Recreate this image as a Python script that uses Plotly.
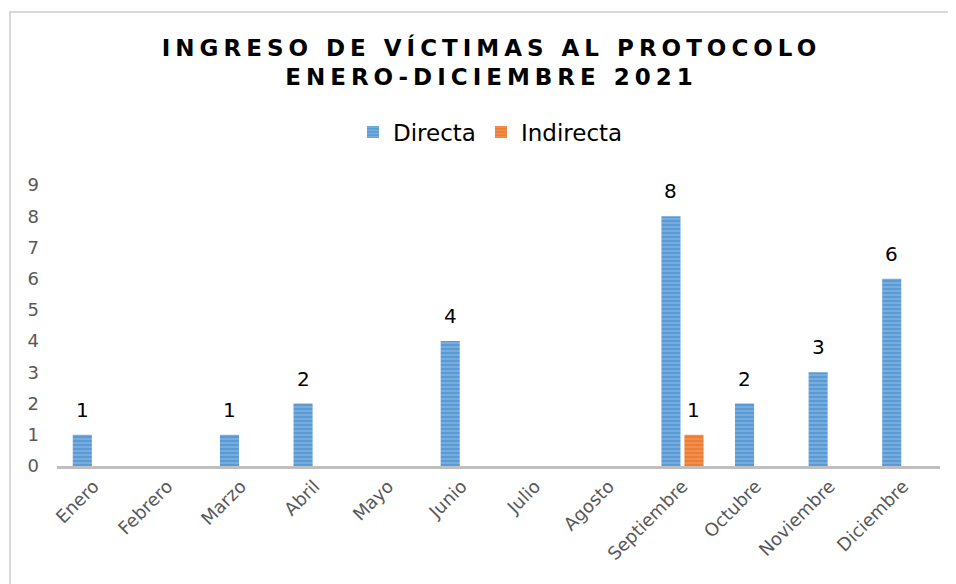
import plotly.graph_objects as go

months = ["Enero", "Febrero", "Marzo", "Abril", "Mayo", "Junio", "Julio",
          "Agosto", "Septiembre", "Octubre", "Noviembre", "Diciembre"]
directa = [1, None, 1, 2, None, 4, None, None, 8, 2, 3, 6]
indirecta = [None, None, None, None, None, None, None, None, 1, None, None, None]
y_ticks = [0, 1, 2, 3, 4, 5, 6, 7, 8, 9]
title_lines = ["INGRESO DE VÍCTIMAS AL PROTOCOLO", "ENERO-DICIEMBRE 2021"]

OFF = 8  # page body margin
W, H = 956, 584
ML, MR, MT, MB = 57 - OFF, 956 - (940 - OFF), 185 - OFF, 584 - (466 - OFF)
PW = W - ML - MR
PH = H - MT - MB

fig = go.Figure()
fig.add_trace(go.Bar(
    name="Directa", x=months, y=directa,
    marker=dict(color="#5b9bd5", line=dict(width=0),
                pattern=dict(shape="-", fgcolor="#a9cbee", size=4, solidity=0.35, fillmode="overlay")),
))
fig.add_trace(go.Bar(
    name="Indirecta", x=months, y=indirecta,
    marker=dict(color="#ed7d31", line=dict(width=0),
                pattern=dict(shape="-", fgcolor="#f6b48a", size=4, solidity=0.35, fillmode="overlay")),
))

annotations = []
for series, shift in ((directa, -11.5), (indirecta, 11.5)):
    for m, v in zip(months, series):
        if v is None:
            continue
        annotations.append(dict(x=m, y=v, text=str(v), showarrow=False,
                                xref="x", yref="y", xshift=shift, yshift=25,
                                font=dict(family="DejaVu Sans", size=20, color="#000000")))

fig.update_layout(
    width=W, height=H,
    margin=dict(l=ML, r=MR, t=MT, b=MB),
    paper_bgcolor="white", plot_bgcolor="white",
    barmode="group", bargap=0.375, bargroupgap=0.17,
    font=dict(family="DejaVu Sans", color="#595959"),
    title=dict(text="<br>".join(title_lines),
               font=dict(family="DejaVu Sans", size=23, color="#000000", weight="bold"),
               x=(489 - OFF + 2.5) / W, xref="container", xanchor="center",
               y=1 - (61.5 - OFF - 6) / H, yref="container", yanchor="middle"),
    legend=dict(orientation="h", x=0.5 - 8 / PW, xanchor="center",
                y=1 + (185 - 132) / PH, yanchor="middle",
                font=dict(family="DejaVu Sans", size=23, color="#000000"),
                bgcolor="rgba(0,0,0,0)"),
    xaxis=dict(showline=True, linecolor="#bfbfbf", linewidth=2.5, showgrid=False,
               tickangle=-45, tickfont=dict(size=18, color="#595959"), ticks=""),
    yaxis=dict(range=[0, 9], tickvals=y_ticks, showgrid=False, zeroline=False,
               showline=False, tickfont=dict(size=18, color="#595959"),
               ticklabelstandoff=17),
    annotations=annotations,
    shapes=[dict(type="rect", xref="paper", yref="paper",
                 x0=(10 - 57) / PW, x1=2, y0=-2, y1=1 + (185 - 12) / PH,
                 line=dict(color="#d9d9d9", width=2), fillcolor="rgba(0,0,0,0)", layer="below")],
)

post = """
(function(){
  var gd = document.getElementsByClassName('plotly-graph-div')[0];
  function fix(){
    var t = gd.querySelector('.gtitle');
    if (t) { t.style.letterSpacing = '5px'; }
  }
  fix();
  gd.on('plotly_afterplot', fix);
})();
"""
fig.write_html("out.html", post_script=post)
